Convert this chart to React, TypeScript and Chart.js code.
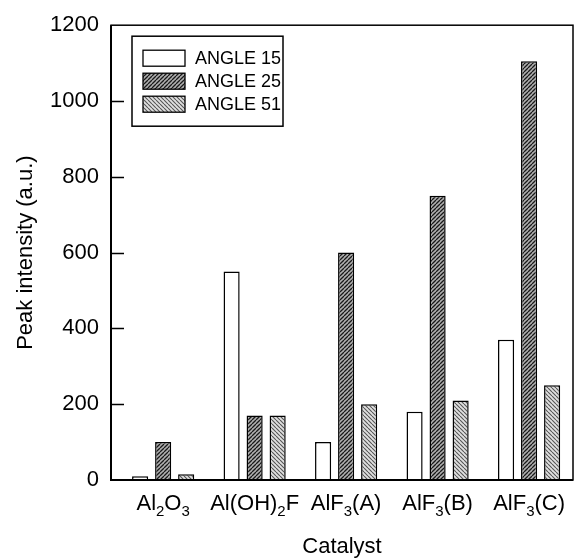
import React, { useEffect, useRef } from "react";
import { Chart, registerables } from "chart.js";

Chart.register(...registerables);

const categories = ["Al₂O₃", "Al(OH)₂F", "AlF₃(A)", "AlF₃(B)", "AlF₃(C)"];
const seriesLabels = ["ANGLE 15", "ANGLE 25", "ANGLE 51"];
const angle15 = [10, 550, 100, 180, 370];
const angle25 = [100, 170, 600, 750, 1105];
const angle51 = [15, 170, 200, 210, 250];
const yTicks = [0, 200, 400, 600, 800, 1000, 1200];
const xTitle = "Catalyst";
const yTitle = "Peak intensity (a.u.)";

const FONT = "'Liberation Sans', Arial, Helvetica, sans-serif";
const SUBS = "₀₁₂₃₄₅₆₇₈₉";

function makePattern(bg: string, line: string, dir: 1 | -1, size: number, lw: number) {
  const c = document.createElement("canvas");
  c.width = size;
  c.height = size;
  const g = c.getContext("2d")!;
  g.fillStyle = bg;
  g.fillRect(0, 0, size, size);
  g.strokeStyle = line;
  g.lineWidth = lw;
  g.beginPath();
  for (let k = -1; k <= 1; k++) {
    if (dir === 1) {
      g.moveTo(k * size, size);
      g.lineTo(k * size + size, 0);
    } else {
      g.moveTo(k * size, 0);
      g.lineTo(k * size + size, size);
    }
  }
  g.stroke();
  return g.createPattern(c, "repeat")!;
}

// split a label into runs of normal text and subscript digits
function runs(label: string) {
  const out: { t: string; sub: boolean }[] = [];
  for (const ch of label) {
    const idx = SUBS.indexOf(ch);
    const sub = idx >= 0;
    const t = sub ? String(idx) : ch;
    const last = out[out.length - 1];
    if (last && last.sub === sub) last.t += t;
    else out.push({ t, sub });
  }
  return out;
}

export default function App() {
  const ref = useRef<HTMLCanvasElement | null>(null);

  useEffect(() => {
    document.body.style.margin = "0";
    const canvas = ref.current!;
    const ctx0 = canvas.getContext("2d")!;
    const fills = [
      "#ffffff",
      makePattern("#b0b0b0", "#1a1a1a", 1, 4, 1.3),
      makePattern("#e0e0e0", "#555555", -1, 4, 1.1),
    ];
    const series = [angle15, angle25, angle51];

    const decor = {
      id: "decor",
      afterDraw(chart: any) {
        const { ctx, chartArea: a, scales } = chart;
        const y = scales.y;
        const x = scales.x;
        ctx.save();
        ctx.strokeStyle = "#000";
        ctx.lineWidth = 1.5;
        ctx.strokeRect(a.left, a.top, a.right - a.left, a.bottom - a.top);
        ctx.lineWidth = 2;
        ctx.beginPath();
        ctx.moveTo(a.left, a.top);
        ctx.lineTo(a.left, a.bottom);
        ctx.lineTo(a.right, a.bottom);
        ctx.stroke();
        ctx.lineWidth = 1.5;
        ctx.beginPath();
        yTicks.forEach((v) => {
          if (v === yTicks[0] || v === yTicks[yTicks.length - 1]) return;
          const py = Math.round(y.getPixelForValue(v)) + 0.5;
          ctx.moveTo(a.left, py);
          ctx.lineTo(a.left + 13, py);
        });
        ctx.stroke();

        // category labels with real subscripts
        ctx.fillStyle = "#000";
        ctx.textBaseline = "alphabetic";
        ctx.textAlign = "left";
        const mainFont = `22px ${FONT}`;
        const subFont = `15px ${FONT}`;
        const baseY = a.bottom + 30;
        categories.forEach((lab, i) => {
          const rs = runs(lab);
          let w = 0;
          rs.forEach((r) => {
            ctx.font = r.sub ? subFont : mainFont;
            w += ctx.measureText(r.t).width;
          });
          let cx = x.getPixelForValue(i) - w / 2;
          rs.forEach((r) => {
            ctx.font = r.sub ? subFont : mainFont;
            ctx.fillText(r.t, cx, r.sub ? baseY + 6 : baseY);
            cx += ctx.measureText(r.t).width;
          });
        });

        // legend
        const bx = a.left + 21;
        const by = a.top + 11;
        const bw = 151;
        const bh = 90;
        ctx.fillStyle = "#fff";
        ctx.fillRect(bx, by, bw, bh);
        ctx.lineWidth = 1.5;
        ctx.strokeRect(bx, by, bw, bh);
        ctx.font = `18px ${FONT}`;
        ctx.textBaseline = "middle";
        ctx.textAlign = "left";
        chart.data.datasets.forEach((ds: any, i: number) => {
          const sy = by + 14 + i * 23;
          ctx.fillStyle = ds.backgroundColor;
          ctx.fillRect(bx + 11, sy, 42, 16);
          ctx.lineWidth = 1.3;
          ctx.strokeStyle = "#000";
          ctx.strokeRect(bx + 11, sy, 42, 16);
          ctx.fillStyle = "#000";
          ctx.fillText(ds.label, bx + 63, sy + 9);
        });
        ctx.restore();
      },
    };

    const chart = new Chart(ctx0, {
      type: "bar",
      data: {
        datasets: series.map((vals, si) => ({
          label: seriesLabels[si],
          data: vals.map((v, i) => ({ x: i, y: v })),
          backgroundColor: fills[si] as any,
          borderColor: "#000",
          borderWidth: 1.5,
          categoryPercentage: 0.755,
          barPercentage: 0.7,
        })),
      },
      options: {
        responsive: false,
        animation: false,
        layout: { padding: { top: 18, right: 8, left: 0, bottom: 0 } },
        plugins: {
          legend: { display: false },
          tooltip: { enabled: false },
        },
        scales: {
          x: {
            type: "linear",
            offset: false,
            min: -0.57,
            max: 4.48,
            grid: { display: false, drawTicks: false, offset: false },
            border: { display: false },
            afterBuildTicks: (s: any) => {
              s.ticks = categories.map((_, i) => ({ value: i }));
            },
            afterFit: (s: any) => {
              s.height = 80;
            },
            ticks: {
              display: false,
              autoSkip: false,
              maxRotation: 0,
              callback: (v: any) => categories[v] ?? "",
            },
            title: {
              display: true,
              text: xTitle,
              color: "#000",
              font: { size: 22, family: FONT },
              padding: { top: 0, bottom: 0 },
            },
          },
          y: {
            min: 0,
            max: 1200,
            grid: { display: false, drawTicks: false },
            border: { display: false },
            afterBuildTicks: (s: any) => {
              s.ticks = yTicks.map((v) => ({ value: v }));
            },
            afterFit: (s: any) => {
              s.width = 111;
            },
            ticks: {
              padding: 12,
              color: "#000",
              font: { size: 22, family: FONT },
              callback: (v: any) => String(v),
            },
            title: {
              display: true,
              text: yTitle,
              color: "#000",
              font: { size: 22, family: FONT },
              padding: { top: 13, bottom: 0 },
            },
          },
        },
      },
      plugins: [decor],
    });
    return () => chart.destroy();
  }, []);

  return (
    <div style={{ width: 581, height: 560 }}>
      <canvas ref={ref} width={581} height={560} />
    </div>
  );
}
